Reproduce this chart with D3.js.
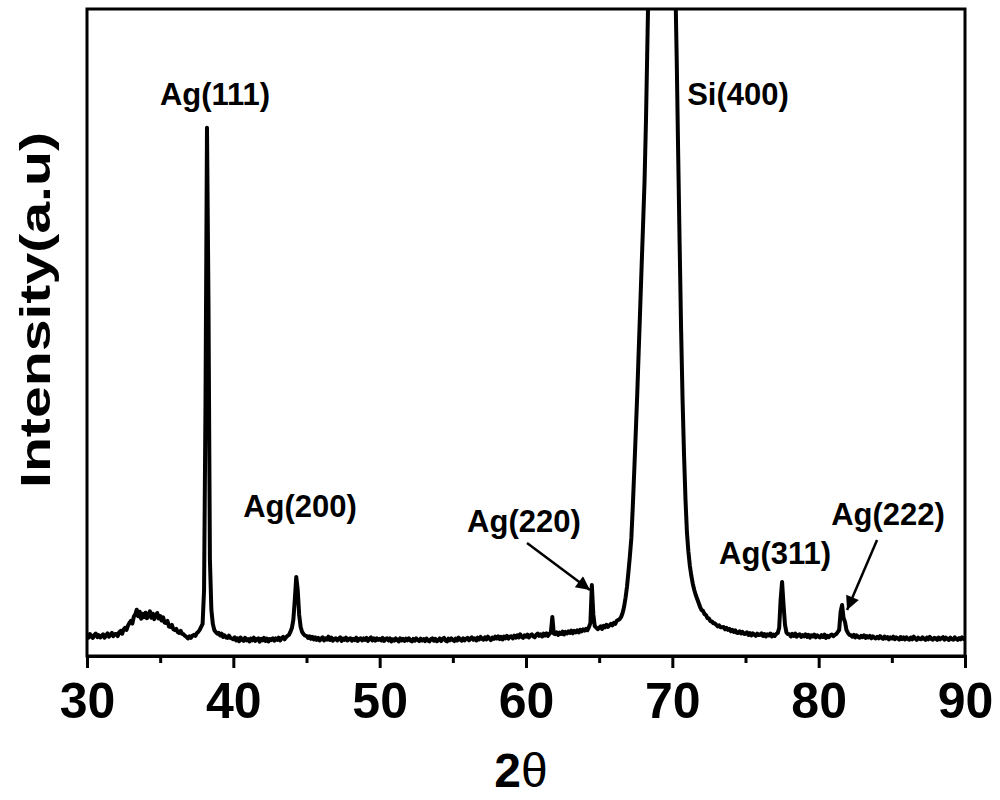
<!DOCTYPE html>
<html>
<head>
<meta charset="utf-8">
<script src="https://cdn.jsdelivr.net/npm/d3@7"></script>
<style>
  body { margin: 0; background: #fff; }
  text { font-family: "Liberation Sans", Arial, sans-serif; font-weight: bold; fill: #000; }
</style>
</head>
<body>
<div id="chart"></div>
<script>
// XRD scan: 2theta from 30 to 90 deg, step 0.1
var scanStart = 30;
var scanStep = 0.1;

// Intensity (counts), one row per degree
var intensity = [
  205,185,220,195,182,212,225,190,210,186,   // 30
  200,218,184,206,228,195,212,232,200,218,   // 31
  222,200,238,252,224,265,282,262,305,332,   // 32
  352,326,395,418,465,400,445,375,425,390,   // 33
  435,380,415,448,385,425,370,410,432,376,   // 34
  402,356,388,336,332,352,296,292,312,270,   // 35
  262,272,240,232,252,222,218,202,192,176,   // 36
  198,182,204,212,202,228,242,262,292,322,   // 37
  663,2573,5306,3578,965,462,322,261,240,225, // 38
  232,206,224,192,208,186,182,204,182,176,   // 39
  168,188,156,178,148,184,162,152,182,158,   // 40
  170,146,176,158,184,152,168,178,144,172,   // 41
  158,182,152,174,146,170,160,178,154,176,   // 42
  162,184,156,178,192,168,188,202,212,242,   // 43
  281,362,563,794,663,412,291,241,220,205,   // 44
  202,182,198,172,192,166,186,162,182,156,   // 45
  174,188,156,178,164,194,162,184,154,172,   // 46
  178,156,172,188,152,176,162,184,156,170,   // 47
  178,154,172,160,184,152,170,178,156,176,   // 48
  162,182,152,172,186,156,176,154,178,162,   // 49
  172,156,182,152,170,178,156,176,146,168,   // 50
  154,176,162,146,178,156,172,152,174,158,   // 51
  178,156,146,172,154,176,162,150,174,156,   // 52
  170,150,176,156,146,168,178,154,172,148,   // 53
  158,176,150,172,182,156,146,174,158,178,   // 54
  162,150,176,156,184,166,154,178,158,174,   // 55
  182,158,174,188,162,178,156,184,166,192,   // 56
  172,164,188,168,194,176,160,186,172,194,   // 57
  176,198,170,192,166,196,178,202,174,194,   // 58
  198,178,204,184,208,186,218,192,182,208,   // 59
  194,214,186,208,218,196,188,214,226,202,   // 60
  218,196,224,206,228,202,222,240,392,225,   // 61
  220,238,212,234,222,244,216,242,226,248,   // 62
  232,254,228,252,238,258,236,264,248,268,   // 63
  255,272,260,290,330,713,420,300,285,270,   // 64
  282,298,272,304,288,314,292,308,322,308,   // 65
  332,322,352,362,370,392,432,492,583,693,   // 66
  844,1005,1186,1508,1869,2241,2623,3055,3477,3910,      // 67
  4332,4764,5387,6191,6995,8000,9500,11500,14000,17000,  // 68
  20000,23000,25000,25500,24500,22000,19000,16000,13000,11000, // 69
  9000,7800,6794,5990,5035,4131,3276,2573,2020,1568,     // 70
  1236,1045,905,804,724,663,613,573,533,492,             // 71
  462,452,420,412,380,378,350,348,330,328,   // 72
  314,298,308,288,288,292,268,282,262,272,   // 73
  248,262,242,258,234,232,248,226,242,222,   // 74
  224,238,212,230,206,228,216,202,224,210,   // 75
  214,228,202,220,196,218,206,226,196,214,   // 76
  202,222,230,281,563,744,513,312,235,220,   // 77
  218,196,222,202,226,194,212,218,192,210,   // 78
  198,218,192,212,184,208,196,216,188,208,   // 79
  196,186,210,192,214,182,202,190,208,215,   // 80
  200,212,220,240,261,442,513,382,342,261,   // 81
  232,212,208,194,212,186,208,192,184,202,   // 82
  190,208,182,200,186,202,178,198,186,176,   // 83
  192,178,200,182,172,196,178,190,168,188,   // 84
  176,194,168,188,178,164,190,172,186,166,   // 85
  188,172,164,186,168,194,176,162,184,172,   // 86
  168,188,172,162,186,168,192,172,164,182,   // 87
  178,162,186,168,180,190,164,184,170,162,   // 88
  184,170,164,188,172,162,180,168,188,172,   // 89
  180                                        // 90
];

// Axis ticks
var majorTicks = [30, 40, 50, 60, 70, 80, 90];
var minorTicks = [35, 45, 55, 65, 75, 85];

// Peak labels (position in data units)
var peakLabels = ["Ag(111)", "Si(400)", "Ag(200)", "Ag(220)", "Ag(311)", "Ag(222)"];
var peakLabelX = [38.75, 74.49, 44.56, 59.86, 77.02, 84.74];
var peakLabelY = [5538, 5538, 1396, 1246, 924, 1316];

// Arrows: [from 2theta, from I, to 2theta, to I]
var arrows = [
  [60.07, 1135, 64.37, 663],
  [83.99, 1165, 81.94, 462]
];

// Chart setup
var svgWidth = 1000;
var svgHeight = 800;

var margin = {
  top: 9,
  right: 35,
  bottom: 144,
  left: 87
};

var width = svgWidth - margin.left - margin.right;
var height = svgHeight - margin.top - margin.bottom;

var svg = d3.select("#chart")
  .append("svg")
  .attr("width", svgWidth)
  .attr("height", svgHeight);

var chartGroup = svg.append("g")
  .attr("transform", `translate(${margin.left}, ${margin.top})`);

var xScale = d3.scaleLinear().domain([30, 90]).range([0, width]);
var yScale = d3.scaleLinear().domain([0, 6500]).range([height, 0]);

var scan = intensity.map((v, i) => ({ x: scanStart + i * scanStep, y: v }));

// clip so the Si peak is cut at the frame
svg.append("defs").append("clipPath")
  .attr("id", "plotClip")
  .append("rect")
  .attr("width", width)
  .attr("height", height);

var line = d3.line()
  .x(d => xScale(d.x))
  .y(d => yScale(d.y));

chartGroup.append("path")
  .datum(scan)
  .attr("clip-path", "url(#plotClip)")
  .attr("fill", "none")
  .attr("stroke", "#000")
  .attr("stroke-width", 4)
  .attr("stroke-linejoin", "round")
  .attr("d", line);

// Frame
chartGroup.append("rect")
  .attr("width", width)
  .attr("height", height)
  .attr("fill", "none")
  .attr("stroke", "#000")
  .attr("stroke-width", 3);

// Bottom axis
var bottomAxis = d3.axisBottom(xScale)
  .tickValues(majorTicks)
  .tickSize(12)
  .tickFormat(d3.format("d"));

var xAxis = chartGroup.append("g")
  .attr("transform", `translate(0, ${height})`)
  .call(bottomAxis);

xAxis.select(".domain").attr("stroke-width", 3);
xAxis.selectAll(".tick line").attr("stroke-width", 3);
xAxis.selectAll(".tick text")
  .attr("y", 62)
  .attr("dy", null)
  .style("font-size", "50px")
  .style("font-family", "'Liberation Sans', Arial, sans-serif")
  .style("font-weight", "bold");

var minorAxis = d3.axisBottom(xScale)
  .tickValues(minorTicks)
  .tickSize(7)
  .tickFormat("");

var xMinor = chartGroup.append("g")
  .attr("transform", `translate(0, ${height})`)
  .call(minorAxis);

xMinor.select(".domain").remove();
xMinor.selectAll(".tick line").attr("stroke-width", 3);

// Axis labels
svg.append("text")
  .attr("transform", "translate(50, 310) rotate(-90)")
  .attr("text-anchor", "middle")
  .attr("textLength", 356)
  .attr("lengthAdjust", "spacingAndGlyphs")
  .style("font-size", "42px")
  .text("Intensity(a.u)");

var xLabel = svg.append("text")
  .attr("x", 521)
  .attr("y", 787)
  .attr("text-anchor", "middle")
  .style("font-size", "48px");
xLabel.append("tspan").text("2");
xLabel.append("tspan").style("font-weight", "normal").text("θ");

// Peak labels
chartGroup.selectAll(".peakLabel")
  .data(peakLabels)
  .enter()
  .append("text")
  .attr("class", "peakLabel")
  .attr("x", (d, i) => xScale(peakLabelX[i]))
  .attr("y", (d, i) => yScale(peakLabelY[i]))
  .attr("text-anchor", "middle")
  .style("font-size", "31px")
  .text(d => d);

// Arrows
svg.select("defs").append("marker")
  .attr("id", "arrowHead")
  .attr("viewBox", "0 0 10 10")
  .attr("refX", 10)
  .attr("refY", 5)
  .attr("markerWidth", 8)
  .attr("markerHeight", 5.5)
  .attr("markerUnits", "strokeWidth")
  .attr("orient", "auto")
  .append("path")
  .attr("d", "M0,0 L10,5 L0,10 Z")
  .attr("fill", "#000");

chartGroup.selectAll(".arrow")
  .data(arrows)
  .enter()
  .append("line")
  .attr("class", "arrow")
  .attr("x1", d => xScale(d[0]))
  .attr("y1", d => yScale(d[1]))
  .attr("x2", d => xScale(d[2]))
  .attr("y2", d => yScale(d[3]))
  .attr("stroke", "#000")
  .attr("stroke-width", 2.5)
  .attr("marker-end", "url(#arrowHead)");
</script>
</body>
</html>
